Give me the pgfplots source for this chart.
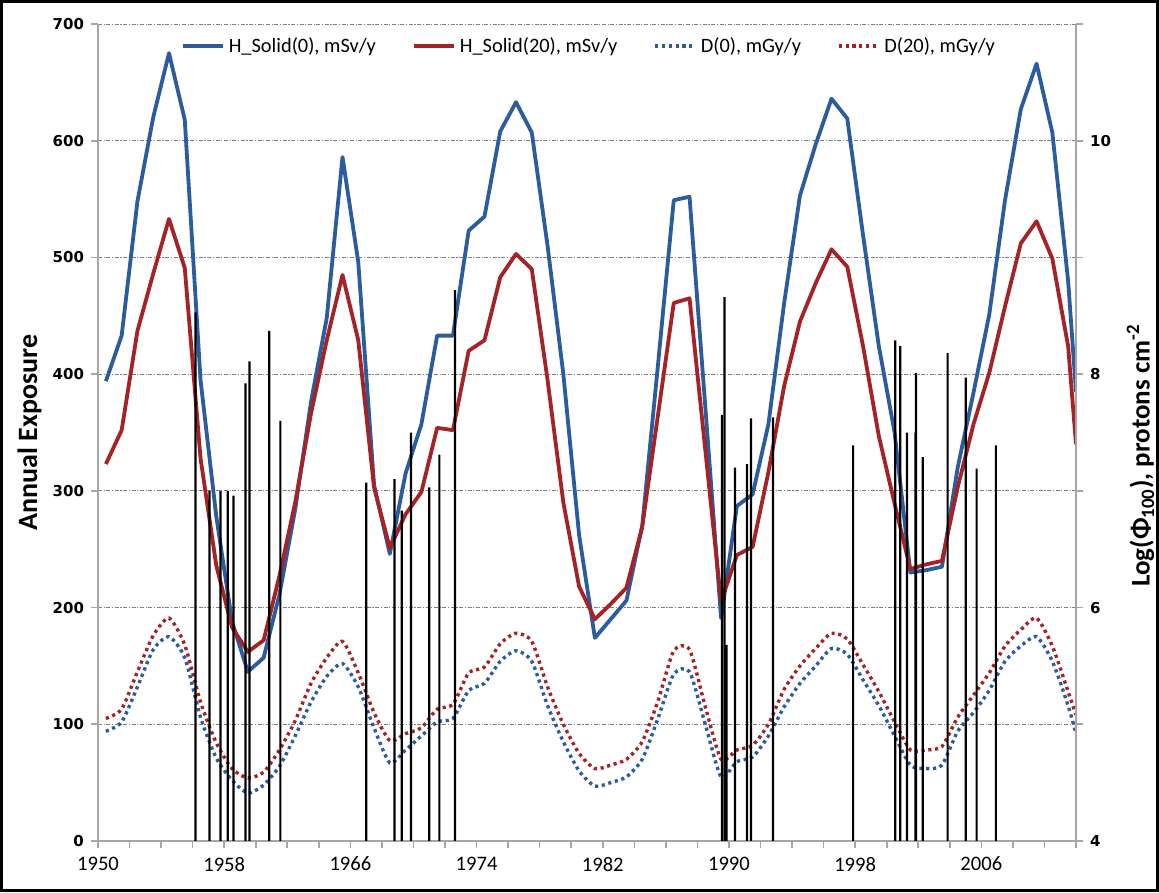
\documentclass[border=0pt]{standalone}
\usepackage{pgfplots}
\pgfplotsset{compat=1.18}
\usepackage{pgfplotstable}
\usepackage{fontspec}
\setmainfont{Carlito}
\newfontfamily\vfont{DejaVu Sans}

\definecolor{hblue}{HTML}{2A5C9E}
\definecolor{hred}{HTML}{A52326}
\definecolor{axgray}{HTML}{A6A6A6}
\definecolor{gridgray}{HTML}{7F7F7F}

\pgfplotstableread{
x h0 h20 d0 d20
1950.5 394 323 94 105
1951.5 433 352 102 113
1952.5 548 437 132 145
1953.5 620 486 164 176
1954.5 675 533 175 191
1955.5 618 491 157 168
1956.5 395 328 106 119
1957.5 278 236 71 84
1958.5 188 183 52 62
1959.5 145 162 41 54
1960.5 157 172 48 59
1961.5 211 227 64 78
1962.5 284 290 90 103
1963.5 376 366 119 135
1964.5 448 429 141 157
1965.5 586 485 152 171
1966.5 496 429 132 144
1967.5 305 303 97 110
1968.5 246 251 67 86
1969.5 315 280 78 92
1970.5 357 299 90 97
1971.5 433 354 102 113
1972.5 433 352 105 117
1973.5 523 420 129 144
1974.5 535 429 135 149
1975.5 608 483 154 169
1976.5 633 503 163 178
1977.5 607 490 154 171
1978.5 510 395 116 132
1979.5 400 290 85 100
1980.5 262 218 60 75
1981.5 174 190 47 62
1982.5 190 203 50 65
1983.5 206 217 55 70
1984.5 270 269 70 85
1985.5 408 365 105 120
1986.5 549 461 143 163
1987.5 552 465 145 164
1988.5 372 335 100 115
1989.5 191 205 55 70
1990.5 287 245 68 78
1991.5 297 252 72 82
1992.5 357 316 90 100
1993.5 461 390 115 130
1994.5 553 445 135 150
1995.5 597 478 150 165
1996.5 636 507 165 178
1997.5 619 492 160 173
1998.5 519 424 138 151
1999.5 424 347 116 128
2000.5 350 289 90 102
2001.5 230 233 65 78
2002.5 232 237 62 78
2003.5 235 240 65 81
2004.5 320 303 94 106
2005.5 384 357 110 125
2006.5 451 401 129 144
2007.5 549 458 154 167
2008.5 627 512 167 181
2009.5 666 531 175 191
2010.5 607 499 154 167
2011.5 480 424 116 128
2012.0 385 340 92 108
}\expo

\pgfplotstableread{
x logphi
1956.18 8.53
1957.07 7.00
1957.76 7.00
1958.23 7.00
1958.59 6.96
1959.35 7.92
1959.60 8.11
1960.86 8.37
1961.56 7.60
1967.00 7.07
1968.80 7.10
1969.26 6.83
1969.84 7.50
1971.00 7.03
1971.64 7.31
1972.63 8.72
1989.55 7.65
1989.72 8.66
1989.85 5.68
1990.38 7.20
1991.14 7.23
1991.40 7.62
1992.79 7.63
1997.87 7.39
2000.54 8.29
2000.86 8.24
2001.28 7.50
2001.82 7.50
2001.86 8.01
2002.28 7.29
2003.86 8.18
2005.01 7.97
2005.70 7.19
2006.92 7.39
}\spe

\begin{document}
\begin{tikzpicture}
\begin{axis}[
  name=main,
  at={(0pt,0pt)}, anchor=south west,
  scale only axis, width=489pt, height=408.5pt,
  xmin=1950, xmax=2012, ymin=0, ymax=700,
  axis x line*=bottom, axis y line*=left,
  axis line style={axgray, line width=1.3pt, -},
  tick style={axgray, line width=0.8pt},
  tick align=outside,
  major tick length=3.5pt, minor tick length=3.5pt,
  xtick={1950,1958,...,2006},
  minor xtick={1952,1954,...,2012},
  ytick={0,100,...,700},
  ymajorgrids,
  grid style={gridgray, line width=0.5pt, dash pattern=on 2pt off 0.8pt on 0.6pt off 0.8pt},
  /pgf/number format/assume math mode=true,
  /pgf/number format/1000 sep={},
  x tick label style={font=\fontsize{10.3}{12}\selectfont, yshift=-1pt},
  y tick label style={font=\vfont\bfseries\fontsize{7.5}{9}\selectfont},
  every axis y label/.style={at={(axis description cs:-0.07,0.5)}, anchor=center, rotate=90},
  ylabel={\fontsize{14}{16}\selectfont\bfseries Annual Exposure},
  legend style={at={(0.503,0.973)}, anchor=center, draw=none, fill=none,
    legend columns=4, font=\fontsize{10.2}{12}\selectfont,
    /tikz/every even column/.append style={column sep=16pt},
    inner sep=0pt},
  legend cell align=left,
  legend image code/.code={\draw[#1] (0pt,0pt) -- (20pt,0pt);},
  clip=true,
]
\addplot[hblue, line width=1.9pt, line join=round] table[x=x, y=h0] {\expo};
\addlegendentry{H\_Solid(0), mSv/y}
\addplot[hred, line width=1.9pt, line join=round] table[x=x, y=h20] {\expo};
\addlegendentry{H\_Solid(20), mSv/y}
\addplot[hblue, line width=1.7pt, dash pattern=on 1.6pt off 1.8pt, smooth, tension=0.4] table[x=x, y=d0] {\expo};
\addlegendentry{D(0), mGy/y}
\addplot[hred, line width=1.7pt, dash pattern=on 1.6pt off 1.8pt, smooth, tension=0.4] table[x=x, y=d20] {\expo};
\addlegendentry{D(20), mGy/y}
\end{axis}
\begin{axis}[
  at={(0pt,0pt)}, anchor=south west,
  scale only axis, width=489pt, height=408.5pt,
  xmin=1950, xmax=2012, ymin=4, ymax=11,
  axis x line=none, axis y line*=right,
  axis line style={axgray, line width=1.3pt, -},
  tick style={axgray, line width=0.8pt},
  tick align=outside, major tick length=3.5pt,
  ytick={4,5,...,11},
  yticklabels={4,,6,,8,,10,},
  /pgf/number format/assume math mode=true,
  y tick label style={font=\vfont\bfseries\fontsize{7.5}{9}\selectfont},
  every axis y label/.style={at={(axis description cs:1.066,0.472)}, anchor=center, rotate=90},
  ylabel={\fontsize{13.5}{16}\selectfont\bfseries Log(Φ\textsubscript{100}), protons cm\textsuperscript{-2}},
  clip=true,
]
\addplot[ybar, bar width=1.1pt, bar shift=0pt, fill=black, draw=none] table[x=x, y=logphi] {\spe};
\end{axis}
\draw[line width=1.5pt] (-48.25pt,-24.75pt) rectangle (529.75pt,419.75pt);
\pgfresetboundingbox
\path[use as bounding box] (-49pt,-25.5pt) rectangle (530.5pt,420.5pt);
\end{tikzpicture}
\end{document}
